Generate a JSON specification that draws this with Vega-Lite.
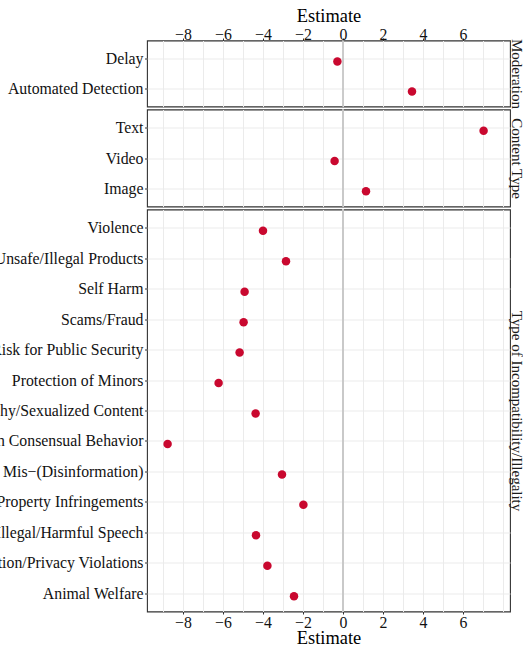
{
  "$schema": "https://vega.github.io/schema/vega-lite/v6.json",
  "autosize": {"type": "none"},
  "padding": {"left": 147, "top": 40.5, "right": 376, "bottom": 606.5},
  "background": "white",
  "bounds": "flush",
  "spacing": 3,
  "config": {
    "view": {"stroke": "#333333", "strokeWidth": 1.1},
    "font": "Liberation Serif",
    "axis": {
      "labelFont": "Liberation Serif",
      "titleFont": "Liberation Serif",
      "labelFontSize": 15.8,
      "titleFontSize": 18.4,
      "labelColor": "#111111",
      "titleColor": "#000000",
      "titleFontWeight": "normal",
      "tickColor": "#333333",
      "tickSize": 2.5,
      "domain": false,
      "labelLimit": 400,
      "gridColor": "#ebebeb",
      "gridWidth": 1
    }
  },
  "datasets": {
    "est": [
      {"group": "Moderation", "term": "Delay", "estimate": -0.28},
      {"group": "Moderation", "term": "Automated Detection", "estimate": 3.45},
      {"group": "Content Type", "term": "Text", "estimate": 7.03},
      {"group": "Content Type", "term": "Video", "estimate": -0.42},
      {"group": "Content Type", "term": "Image", "estimate": 1.15},
      {"group": "Type of Incompatibility/Illegality", "term": "Violence", "estimate": -4.0},
      {"group": "Type of Incompatibility/Illegality", "term": "Unsafe/Illegal Products", "estimate": -2.85},
      {"group": "Type of Incompatibility/Illegality", "term": "Self Harm", "estimate": -4.92},
      {"group": "Type of Incompatibility/Illegality", "term": "Scams/Fraud", "estimate": -4.97},
      {"group": "Type of Incompatibility/Illegality", "term": "Risk for Public Security", "estimate": -5.17},
      {"group": "Type of Incompatibility/Illegality", "term": "Protection of Minors", "estimate": -6.22},
      {"group": "Type of Incompatibility/Illegality", "term": "Pornography/Sexualized Content", "estimate": -4.37},
      {"group": "Type of Incompatibility/Illegality", "term": "Non Consensual Behavior", "estimate": -8.77},
      {"group": "Type of Incompatibility/Illegality", "term": "Mis−(Disinformation)", "estimate": -3.05},
      {"group": "Type of Incompatibility/Illegality", "term": "Intellectual Property Infringements", "estimate": -1.98},
      {"group": "Type of Incompatibility/Illegality", "term": "Illegal/Harmful Speech", "estimate": -4.35},
      {"group": "Type of Incompatibility/Illegality", "term": "Data Protection/Privacy Violations", "estimate": -3.78},
      {"group": "Type of Incompatibility/Illegality", "term": "Animal Welfare", "estimate": -2.45}
    ]
  },
  "vconcat": [
    {
      "width": 363,
      "height": 66,
      "data": {"name": "est"},
      "transform": [{"filter": "datum.group === 'Moderation'"}],
      "resolve": {"axis": {"x": "independent", "y": "independent"}},
      "layer": [
        {
          "mark": {"type": "rule", "color": "#c8c8c8", "strokeWidth": 1.5},
          "encoding": {
            "x": {"datum": 0, "type": "quantitative",
              "scale": {"domain": [-9.8, 8.35], "nice": false, "zero": false},
              "axis": {"orient": "bottom", "values": [-9, -8, -7, -6, -5, -4, -3, -2, -1, 0, 1, 2, 3, 4, 5, 6, 7, 8], "grid": true, "labels": false, "ticks": false, "title": null, "minExtent": 0, "maxExtent": 0}}
          }
        },
        {
          "mark": {"type": "point", "filled": true, "size": 72, "color": "#c9082f", "opacity": 1, "yOffset": 3},
          "encoding": {
            "x": {"field": "estimate", "type": "quantitative",
              "scale": {"domain": [-9.8, 8.35], "nice": false, "zero": false},
              "axis": {"orient": "top", "values": [-8, -6, -4, -2, 0, 2, 4, 6], "grid": false, "title": "Estimate", "labelBaseline": "alphabetic", "labelPadding": -1.1, "titleBaseline": "alphabetic", "titlePadding": 5}},
            "y": {"field": "term", "type": "nominal", "sort": null,
              "scale": {"type": "point", "padding": 0.6},
              "axis": {"orient": "left", "title": null, "grid": true, "labelPadding": 1.5}}
          }
        },
        {
          "mark": {"type": "point", "opacity": 0},
          "encoding": {
            "y": {"field": "term", "type": "nominal", "sort": null,
              "scale": {"type": "point", "padding": 0.6},
              "axis": {"orient": "right", "title": "Moderation", "labels": false, "ticks": false, "grid": false, "titleFontSize": 15, "titleBaseline": "alphabetic", "titlePadding": 1.5, "titleColor": "#1a1a1a"}}
          }
        }
      ]
    },
    {
      "width": 363,
      "height": 97,
      "data": {"name": "est"},
      "transform": [{"filter": "datum.group === 'Content Type'"}],
      "resolve": {"axis": {"x": "independent", "y": "independent"}},
      "layer": [
        {
          "mark": {"type": "rule", "color": "#c8c8c8", "strokeWidth": 1.5},
          "encoding": {
            "x": {"datum": 0, "type": "quantitative",
              "scale": {"domain": [-9.8, 8.35], "nice": false, "zero": false},
              "axis": {"orient": "bottom", "values": [-9, -8, -7, -6, -5, -4, -3, -2, -1, 0, 1, 2, 3, 4, 5, 6, 7, 8], "grid": true, "labels": false, "ticks": false, "title": null, "minExtent": 0, "maxExtent": 0}}
          }
        },
        {
          "mark": {"type": "point", "filled": true, "size": 72, "color": "#c9082f", "opacity": 1, "yOffset": 3},
          "encoding": {
            "x": {"field": "estimate", "type": "quantitative",
              "scale": {"domain": [-9.8, 8.35], "nice": false, "zero": false},
              "axis": null},
            "y": {"field": "term", "type": "nominal", "sort": null,
              "scale": {"type": "point", "padding": 0.6},
              "axis": {"orient": "left", "title": null, "grid": true, "labelPadding": 1.5}}
          }
        },
        {
          "mark": {"type": "point", "opacity": 0},
          "encoding": {
            "y": {"field": "term", "type": "nominal", "sort": null,
              "scale": {"type": "point", "padding": 0.6},
              "axis": {"orient": "right", "title": "Content Type", "labels": false, "ticks": false, "grid": false, "titleFontSize": 15, "titleBaseline": "alphabetic", "titlePadding": 1.5, "titleColor": "#1a1a1a"}}
          }
        }
      ]
    },
    {
      "width": 363,
      "height": 402,
      "data": {"name": "est"},
      "transform": [{"filter": "datum.group === 'Type of Incompatibility/Illegality'"}],
      "resolve": {"axis": {"x": "independent", "y": "independent"}},
      "layer": [
        {
          "mark": {"type": "rule", "color": "#c8c8c8", "strokeWidth": 1.5},
          "encoding": {
            "x": {"datum": 0, "type": "quantitative",
              "scale": {"domain": [-9.8, 8.35], "nice": false, "zero": false},
              "axis": {"orient": "top", "values": [-9, -8, -7, -6, -5, -4, -3, -2, -1, 0, 1, 2, 3, 4, 5, 6, 7, 8], "grid": true, "labels": false, "ticks": false, "title": null, "minExtent": 0, "maxExtent": 0}}
          }
        },
        {
          "mark": {"type": "point", "filled": true, "size": 72, "color": "#c9082f", "opacity": 1, "yOffset": 3},
          "encoding": {
            "x": {"field": "estimate", "type": "quantitative",
              "scale": {"domain": [-9.8, 8.35], "nice": false, "zero": false},
              "axis": {"orient": "bottom", "values": [-8, -6, -4, -2, 0, 2, 4, 6], "grid": false, "title": "Estimate", "labelPadding": 1.7, "titlePadding": -2}},
            "y": {"field": "term", "type": "nominal", "sort": null,
              "scale": {"type": "point", "padding": 0.6},
              "axis": {"orient": "left", "title": null, "grid": true, "labelPadding": 1.5}}
          }
        },
        {
          "mark": {"type": "point", "opacity": 0},
          "encoding": {
            "y": {"field": "term", "type": "nominal", "sort": null,
              "scale": {"type": "point", "padding": 0.6},
              "axis": {"orient": "right", "title": "Type of Incompatibility/Illegality", "labels": false, "ticks": false, "grid": false, "titleFontSize": 15, "titleBaseline": "alphabetic", "titlePadding": 1.5, "titleColor": "#1a1a1a"}}
          }
        }
      ]
    }
  ]
}
